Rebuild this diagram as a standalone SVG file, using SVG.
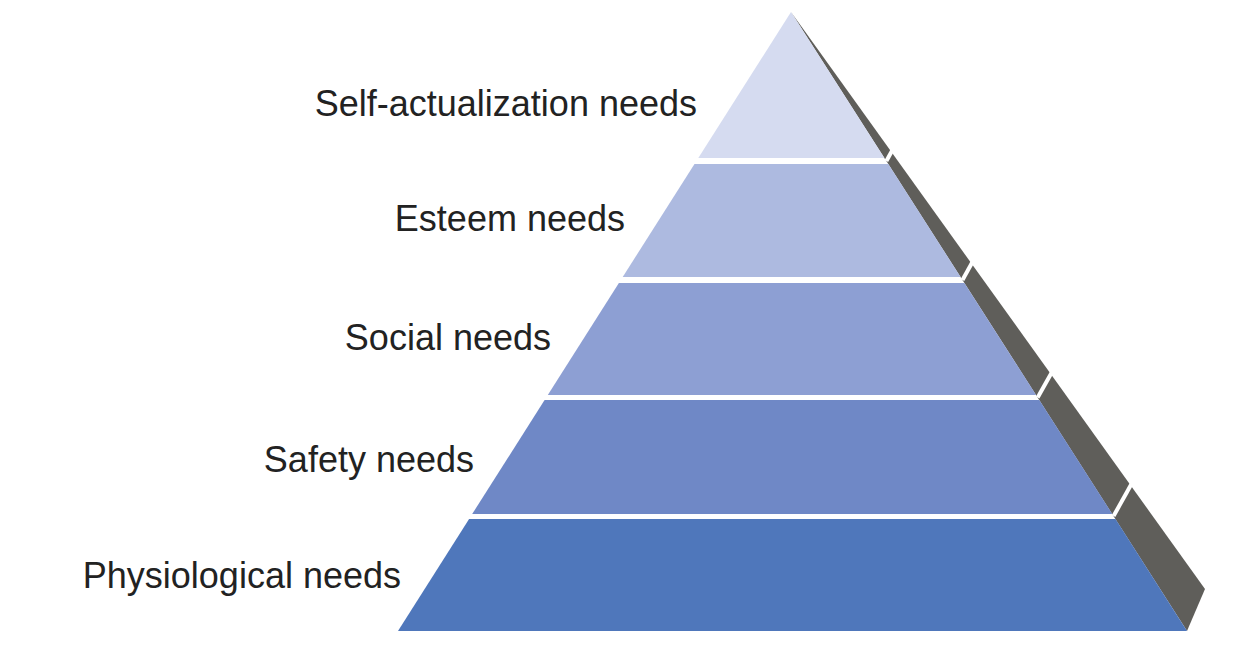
<svg xmlns="http://www.w3.org/2000/svg" width="1247" height="665" viewBox="0 0 1247 665">
<style>
.lbl{font-family:"Liberation Sans",Arial,sans-serif;font-size:36px;fill:#222;text-anchor:end}
.brk{stroke:#fff;stroke-width:4}
</style>
<rect width="1247" height="665" fill="#fff"/>
<g id="shadow">
<polygon points="791,12 1205,589 1187,631" fill="#5f5e5a"/>
<line class="brk" x1="886.4" y1="161" x2="893" y2="149"/>
<line class="brk" x1="962.5" y1="280" x2="973" y2="261"/>
<line class="brk" x1="1037.7" y1="397.5" x2="1052" y2="372"/>
<line class="brk" x1="1113.6" y1="516" x2="1132" y2="483"/>
</g>
<g id="tier1"><polygon points="791,12 884.4,158 698.3,158" fill="#d5dbf0"/><text class="lbl" x="697" y="116">Self-actualization needs</text></g>
<g id="tier2"><polygon points="694.5,164 888.3,164 960.6,277 622.7,277" fill="#adbae0"/><text class="lbl" x="625" y="231">Esteem needs</text></g>
<g id="tier3"><polygon points="618.9,283 964.4,283 1036.1,395 547.8,395" fill="#8d9fd3"/><text class="lbl" x="551" y="350">Social needs</text></g>
<g id="tier4"><polygon points="544.6,400 1039.3,400 1112.3,514 472.2,514" fill="#6f88c6"/><text class="lbl" x="474" y="472">Safety needs</text></g>
<g id="tier5"><polygon points="469.1,519 1115.5,519 1187,631 398,631" fill="#4f77bb"/><text class="lbl" x="401" y="588">Physiological needs</text></g>
<g id="connectors"></g>
</svg>
